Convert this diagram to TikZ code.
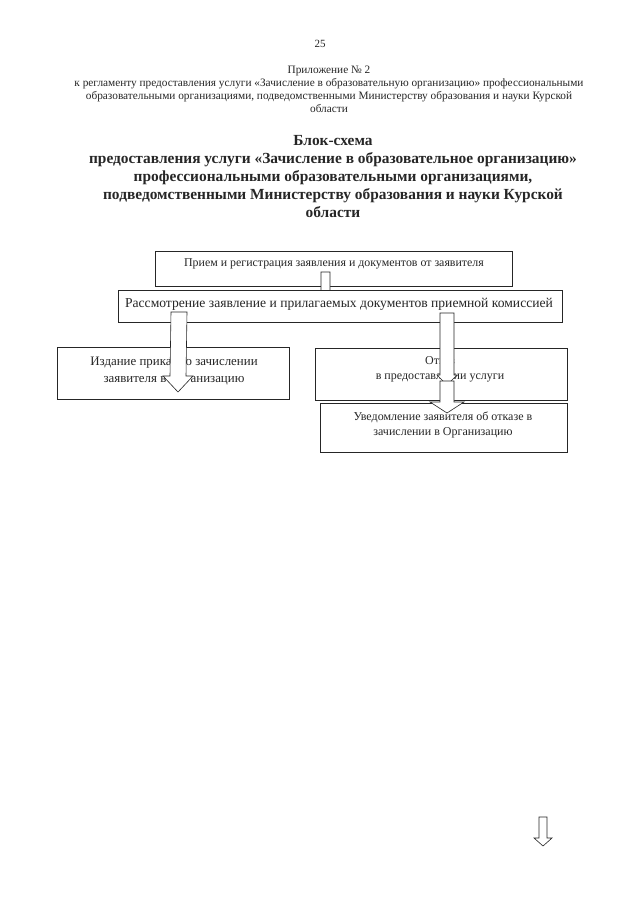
\documentclass[tikz,border=0pt]{standalone}
\usepackage{fontspec}
\setmainfont{Liberation Serif}
\usetikzlibrary{calc}

% block arrow: start, tip, shaft half width, head half width, head length
\newcommand{\blockarrow}[5]{%
  \draw[barrow] ($(#1)+(-#3,0)$) -- ($(#2)+(-#3,-#5)$) -- ($(#2)+(-#4,-#5)$) -- (#2)
    -- ($(#2)+(#4,-#5)$) -- ($(#2)+(#3,-#5)$) -- ($(#1)+(#3,0)$) -- cycle;}

\begin{document}
\begin{tikzpicture}[x=1pt, y=-1pt,
    box/.style={rectangle, draw=black!85, fill=white, line width=0.6pt, inner sep=0pt},
    txt/.style={align=center, inner sep=0pt, text=black!85},
    barrow/.style={draw=black!85, fill=white, line width=0.6pt, line join=miter}
    ]
    \useasboundingbox[fill=white] (0,0) rectangle (640,905);

    % header
    \node[txt, font=\fontsize{11}{12}\selectfont] (pagenum) at (320,44) {25};
    \node[txt, font=\fontsize{11.3}{12.8}\selectfont] (appendix) at (329,89.5) {Приложение № 2\\
      к регламенту предоставления услуги «Зачисление в образовательную организацию» профессиональными\\
      образовательными организациями, подведомственными Министерству образования и науки Курской\\
      области};

    % title
    \node[txt, font=\fontsize{15.4}{18}\selectfont\bfseries] (title) at (333,177) {Блок-схема\\
      предоставления услуги «Зачисление в образовательное организацию»\\
      профессиональными образовательными организациями,\\
      подведомственными Министерству образования и науки Курской\\
      области};

    % boxes
    \node[box, minimum width=357pt, minimum height=35pt] (reception) at (333.5,268.5) {};
    \node[txt, font=\fontsize{11.9}{13}\selectfont] (receptiontxt) at (334,263.5) {Прием и регистрация заявления и документов от заявителя};
    \coordinate (a1s) at (325.5,272);
    \coordinate (a1e) at (325.5,304);
    \blockarrow{a1s}{a1e}{4.5}{10}{10}

    \node[box, minimum width=444pt, minimum height=32pt] (review) at (340,306) {};
    \node[txt, font=\fontsize{13.6}{15}\selectfont] (reviewtxt) at (339,304) {Рассмотрение заявление и прилагаемых документов приемной комиссией};

    \node[box, minimum width=232pt, minimum height=52pt] (order) at (173,373) {};
    \node[txt, font=\fontsize{12.9}{17}\selectfont] (ordertxt) at (174,371.5) {Издание приказа о зачислении\\заявителя в Организацию};

    \node[box, minimum width=252pt, minimum height=52pt] (refusal) at (441,374) {};
    \node[txt, font=\fontsize{12}{15}\selectfont] (refusaltxt) at (440,369.5) {Отказ\\в предоставлении услуги};

    % arrows from review
    \coordinate (a2s) at (179,312);
    \coordinate (a2e) at (178,392);
    \blockarrow{a2s}{a2e}{8}{15}{16}
    \coordinate (a3s) at (447,313);
    \coordinate (a3e) at (447,385);
    \blockarrow{a3s}{a3e}{7}{10}{10}

    \node[box, minimum width=247pt, minimum height=49pt] (notice) at (443.5,427.5) {};
    \node[txt, font=\fontsize{12}{15}\selectfont] (noticetxt) at (443,424.5) {Уведомление заявителя об отказе в\\зачислении в Организацию};

    \coordinate (a4s) at (447,381);
    \coordinate (a4e) at (447,413);
    \blockarrow{a4s}{a4e}{7}{17}{11}

    % lone arrow at page foot
    \coordinate (a5s) at (543,817);
    \coordinate (a5e) at (543,846);
    \blockarrow{a5s}{a5e}{4}{9}{8}
  \end{tikzpicture}
\end{document}
